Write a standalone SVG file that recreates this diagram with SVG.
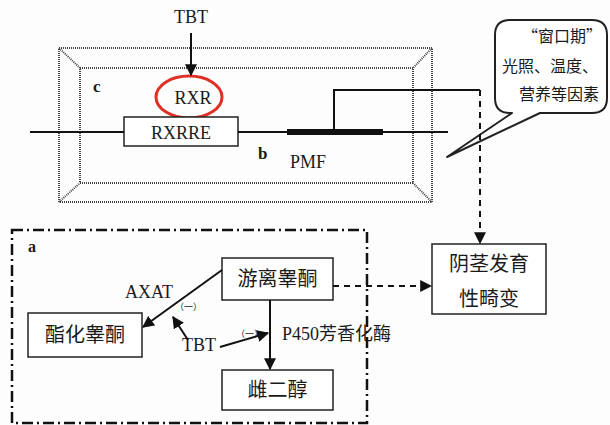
<svg xmlns="http://www.w3.org/2000/svg" width="610" height="425" viewBox="0 0 610 425">
<defs>
<style>
.t{font-family:"Liberation Serif","Noto Sans CJK SC",serif;fill:#1a1a1a}
.cn{font-family:"Noto Sans CJK SC","Liberation Serif",serif;fill:#1a1a1a}
.box{fill:#fff;stroke:#222;stroke-width:1.5}
.ln{stroke:#111;stroke-width:2;fill:none}
.dot{stroke:#444;stroke-width:2;stroke-dasharray:1 1;fill:none}
.dash{stroke:#111;stroke-width:2;stroke-dasharray:6 5;fill:none}
</style>
<marker id="ah" viewBox="0 0 10 10" refX="9" refY="5" markerWidth="6" markerHeight="6" orient="auto" markerUnits="strokeWidth">
<path d="M0,0 L10,5 L0,10 Z" fill="#111"/>
</marker>
</defs>
<rect width="610" height="425" fill="#fdfdfd"/>

<g id="cell">
<rect class="dot" x="59" y="48" width="373" height="154"/>
<rect class="dot" x="80" y="68" width="333" height="115"/>
<line class="dot" x1="59" y1="48" x2="80" y2="68"/>
<line class="dot" x1="432" y1="48" x2="413" y2="68"/>
<line class="dot" x1="59" y1="202" x2="80" y2="183"/>
<line class="dot" x1="432" y1="202" x2="413" y2="183"/>
<text class="t" x="93" y="92" font-size="17" font-weight="bold">c</text>
<text class="t" x="258" y="159" font-size="17" font-weight="bold">b</text>
</g>

<g id="tbt-top">
<text class="t" x="191" y="23" font-size="18" text-anchor="middle">TBT</text>
</g>

<g id="rxr">
<ellipse cx="189" cy="97" rx="33" ry="21" fill="none" stroke="#e03026" stroke-width="3"/>
<text class="t" x="193" y="104" font-size="18" text-anchor="middle">RXR</text>
</g>

<g id="rxrre">
<rect class="box" x="124" y="117" width="114" height="29"/>
<text class="t" x="181" y="139" font-size="18" text-anchor="middle">RXRRE</text>
</g>

<g id="pmf">
<line x1="287" y1="132" x2="383" y2="132" stroke="#111" stroke-width="6"/>
<text class="t" x="290" y="168" font-size="18">PMF</text>
</g>

<g id="bubble">
<path d="M512,113 L447,157 L540,113 L592,113 Q607,113 607,98 L607,35 Q607,20 592,20 L510,20 Q495,20 495,35 L495,98 Q495,113 510,113 Z" fill="#fff" stroke="#222" stroke-width="2" stroke-linejoin="round"/>
<text class="cn" x="562" y="42" font-size="16" text-anchor="middle">“窗口期”</text>
<text class="cn" x="550" y="72" font-size="16" text-anchor="middle">光照、温度、</text>
<text class="cn" x="559" y="100" font-size="16" text-anchor="middle">营养等因素</text>
</g>

<g id="region-a">
<rect x="12" y="230" width="355" height="193" fill="none" stroke="#111" stroke-width="2.5" stroke-dasharray="11 4 2 4"/>
<text class="t" x="28" y="252" font-size="16" font-weight="bold">a</text>
</g>

<g id="free-t">
<rect class="box" x="222" y="258" width="111" height="42"/>
<text class="cn" x="277.5" y="286" font-size="20" text-anchor="middle">游离睾酮</text>
</g>

<g id="ester-t">
<rect class="box" x="28" y="313" width="114" height="44"/>
<text class="cn" x="85" y="342" font-size="20" text-anchor="middle">酯化睾酮</text>
</g>

<g id="estradiol">
<rect class="box" x="222" y="370" width="111" height="40"/>
<text class="cn" x="277.5" y="397" font-size="20" text-anchor="middle">雌二醇</text>
</g>

<g id="penis">
<rect class="box" x="432" y="244" width="114" height="70"/>
<text class="cn" x="489" y="271" font-size="20" text-anchor="middle">阴茎发育</text>
<text class="cn" x="489" y="306" font-size="20" text-anchor="middle">性畸变</text>
</g>

<g id="labels">
<text class="t" x="125" y="298" font-size="18">AXAT</text>
<text class="cn" x="175" y="310" font-size="9" fill="#666">（一）</text>
<text class="t" x="182" y="351" font-size="18">TBT</text>
<text class="cn" x="236" y="337" font-size="9" fill="#666">（一）</text>
<text class="t" x="282" y="340" font-size="18">P450<tspan class="cn" font-size="18">芳香化酶</tspan></text>
</g>

<g id="connectors">
<line class="ln" x1="191" y1="33" x2="191" y2="75" marker-end="url(#ah)"/>
<line class="ln" x1="30" y1="132" x2="124" y2="132" stroke-width="1.5"/>
<line class="ln" x1="238" y1="132" x2="448" y2="132" stroke-width="1.5"/>
<polyline class="ln" points="334,132 334,90 480,90"/>
<line class="dash" x1="480" y1="90" x2="480" y2="243" marker-end="url(#ah)"/>
<line class="ln" x1="222" y1="270" x2="143" y2="327" marker-end="url(#ah)"/>
<line class="ln" x1="188" y1="340" x2="173" y2="317" marker-end="url(#ah)"/>
<line class="ln" x1="220" y1="347" x2="268" y2="333" marker-end="url(#ah)"/>
<line class="ln" x1="270" y1="300" x2="270" y2="369" marker-end="url(#ah)"/>
<line class="dash" x1="333" y1="286" x2="431" y2="286" marker-end="url(#ah)"/>
</g>
</svg>
